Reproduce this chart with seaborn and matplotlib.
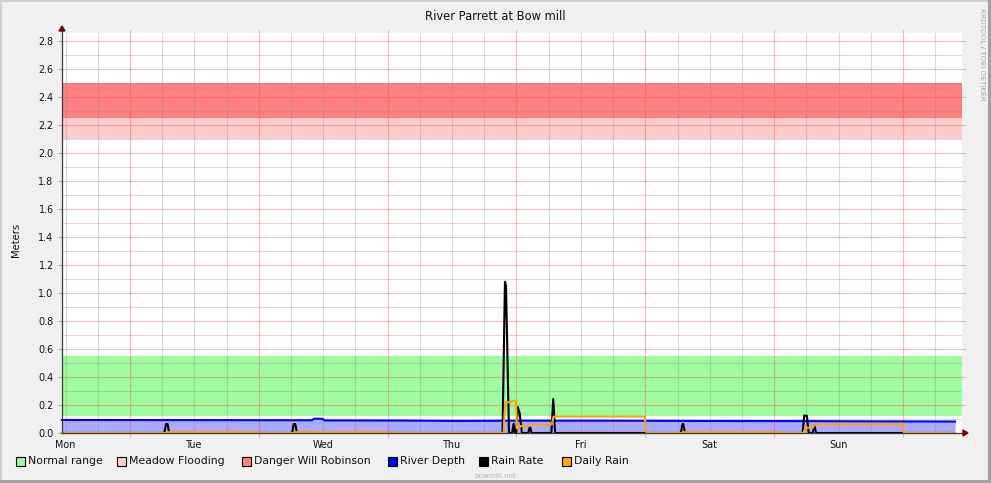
import matplotlib
matplotlib.use("Agg")
import matplotlib.pyplot as plt
from matplotlib.patches import Rectangle, Polygon
from matplotlib.lines import Line2D
import seaborn as sns

plt.rcParams["font.family"] = ["DejaVu Sans"]

# ---------------- data (time in hours since Monday 00:00) ----------------
day_labels = ["Mon", "Tue", "Wed", "Thu", "Fri", "Sat", "Sun"]
label_hours = [12, 36, 60, 84, 108, 132, 156]
y_ticks = [0.0, 0.2, 0.4, 0.6, 0.8, 1.0, 1.2, 1.4, 1.6, 1.8, 2.0, 2.2, 2.4, 2.6, 2.8]

normal_range = (0.12, 0.55)
meadow_flooding = (2.10, 2.25)
danger_level = (2.25, 2.50)

depth_hours = [11.3, 35.7, 55.7, 57.9, 58.3, 59.8, 60.3, 74.3, 85.5, 96.7,
               111.6, 130.2, 148.8, 163.7, 177.7]
depth_m = [0.093, 0.092, 0.091, 0.091, 0.102, 0.102, 0.090, 0.089, 0.086, 0.088,
           0.088, 0.086, 0.085, 0.083, 0.082]

rate_hours = [11.3, 30.4, 30.7, 31.0, 31.3,
              54.2, 54.5, 54.8, 55.1,
              93.4, 93.85, 94.05, 94.6,
              95.2, 95.45, 95.7,
              95.95, 96.25, 96.6, 97.0,
              98.2, 98.5, 98.8,
              102.5, 102.85, 103.2,
              126.6, 126.95, 127.05, 127.4,
              149.3, 149.6, 150.1, 150.45,
              151.2, 151.5, 151.8, 177.7]
rate_m = [0, 0, 0.064, 0.064, 0,
          0, 0.064, 0.064, 0,
          0, 1.08, 1.05, 0,
          0, 0.065, 0,
          0, 0.185, 0.14, 0,
          0, 0.05, 0,
          0, 0.243, 0,
          0, 0.064, 0.064, 0,
          0, 0.124, 0.124, 0,
          0, 0.057, 0, 0]

daily_hours = [11.3, 30.7, 30.9, 47.9, 48.1, 54.5, 54.7, 71.9, 72.1,
               93.6, 93.9, 95.0, 95.2, 95.9, 96.1, 96.5, 96.7, 98.5, 98.7,
               102.6, 102.9, 119.9, 120.2, 126.8, 127.0, 143.9, 144.1,
               149.5, 149.8, 151.2, 151.6, 167.9, 168.2, 177.7]
daily_m = [0, 0, 0.006, 0.006, 0, 0, 0.006, 0.006, 0,
           0, 0.22, 0.22, 0.23, 0.23, 0.033, 0.033, 0.05, 0.05, 0.062,
           0.062, 0.117, 0.117, 0, 0, 0.006, 0.006, 0,
           0, 0.038, 0.038, 0.062, 0.062, 0, 0]

legend_names = ["Normal range", "Meadow Flooding", "Danger Will Robinson",
                "River Depth", "Rain Rate", "Daily Rain"]

# ---------------- styling ----------------
C_NORMAL = "#a0fca0"
C_MEADOW = "#ffcccc"
C_DANGER = "#ff8080"
C_DEPTH_FILL = "#aaaaff"
C_DEPTH_LINE = "#0000ff"
C_RATE = "#000000"
C_DAILY = "#ffa500"
C_AXIS = "#3c3c3c"
C_ARROW = "#7f0000"
C_BG = "#f0f0f0"
legend_colors = [C_NORMAL, C_MEADOW, C_DANGER, C_DEPTH_LINE, C_RATE, C_DAILY]

W, H = 991, 483
fig = plt.figure(figsize=(W / 100, H / 100), dpi=100, facecolor=C_BG)


def fx(px):
    return px / W


def fy(py):
    return 1 - py / H


X0, X1 = 11.33, 179.0
Y0, Y1 = 0.0, 2.857
ax = fig.add_axes([fx(62), fy(433), fx(962) - fx(62), fy(33) - fy(433)])
ax.set_facecolor("white")
ax.set_xlim(X0, X1)
ax.set_ylim(Y0, Y1)
for s in ax.spines.values():
    s.set_visible(False)

# threshold bands
for (lo, hi), col in [(normal_range, C_NORMAL), (meadow_flooding, C_MEADOW),
                      (danger_level, C_DANGER)]:
    ax.fill_between([X0, X1], lo, hi, color=col, linewidth=0, zorder=1)

# river depth area
ax.fill_between(depth_hours, 0, depth_m, color=C_DEPTH_FILL, linewidth=0, zorder=1.5)

# grid: minor every 6 h / 0.1 m, major at midnight / 0.2 m
grid_minor = (0.5, 0.5, 0.5, 0.28)
grid_major = (1.0, 0.3, 0.3, 0.4)
h = 6 * (int(X0 // 6) + 1)
while h < X1:
    if h % 24:
        ax.axvline(h, color=grid_minor, lw=0.8, zorder=2)
    else:
        ax.axvline(h, ymin=-0.01, ymax=1.008, color=grid_major, lw=0.8,
                   zorder=2, clip_on=False)
    h += 6
for k in range(1, 29):
    v = k / 10
    if k % 2:
        ax.axhline(v, color=grid_minor, lw=0.8, zorder=2)
    else:
        ax.axhline(v, xmin=0, xmax=1.003, color=grid_major, lw=0.8,
                   zorder=2, clip_on=False)

# data lines
sns.lineplot(x=depth_hours, y=depth_m, ax=ax, color=C_DEPTH_LINE, lw=1.5,
             estimator=None, sort=False, zorder=3, clip_on=False)
sns.lineplot(x=rate_hours, y=rate_m, ax=ax, color=C_RATE, lw=1.5,
             estimator=None, sort=False, zorder=3.2, clip_on=False)
sns.lineplot(x=daily_hours, y=daily_m, ax=ax, color=C_DAILY, lw=1.5,
             estimator=None, sort=False, zorder=3.4, clip_on=False)

# ticks
ax.set_xticks(label_hours)
ax.set_xticklabels(day_labels, fontsize=6.9, color="#111111")
ax.tick_params(axis="x", length=0, pad=5)
ax.set_yticks(y_ticks)
ax.set_yticklabels([f"{v:.1f}" for v in y_ticks], fontsize=6.9, color="#111111")
ax.tick_params(axis="y", length=3, width=0.8, color=(0.5, 0.5, 0.5, 0.6), pad=3)
ax.set_xlabel("")
ax.set_ylabel("")

# axes with arrows
fig.add_artist(Line2D([fx(62), fx(62)], [fy(433), fy(30)], color=C_AXIS, lw=0.9, zorder=10))
fig.add_artist(Line2D([fx(62), fx(965)], [fy(433), fy(433)], color=C_AXIS, lw=0.9, zorder=10))
fig.add_artist(Polygon([[fx(59), fy(31)], [fx(65), fy(31)], [fx(62), fy(26)]],
                       closed=True, color=C_ARROW, zorder=11))
fig.add_artist(Polygon([[fx(963), fy(430)], [fx(963), fy(436)], [fx(968), fy(433)]],
                       closed=True, color=C_ARROW, zorder=11))

# texts
fig.text(fx(495), fy(16), "River Parrett at Bow mill", ha="center", va="center",
         fontsize=8.3, color="#111111")
fig.text(fx(16), fy(240), "Meters", rotation=90, ha="center", va="center",
         fontsize=7.2, color="#111111")
fig.text(fx(982), fy(54), "RRDTOOL / TOBI OETIKER", rotation=270, ha="center",
         va="center", fontsize=5.2, color="#a8a8a8")
fig.text(fx(495), fy(476), "bowmill.net", ha="center", va="center",
         fontsize=5.2, color="#b4b4b4")

# legend row
swatch_x = [16, 117, 242, 388, 479, 562]
for name, col, sx in zip(legend_names, legend_colors, swatch_x):
    fig.add_artist(Rectangle((fx(sx), fy(466)), fx(9), 9 / H, facecolor=col,
                             edgecolor="black", lw=0.8))
    fig.text(fx(sx + 12), fy(461.5), name, ha="left", va="center",
             fontsize=7.8, color="#111111")

# frame
fig.add_artist(Rectangle((0, fy(2)), 1, 2 / H, facecolor="#cfcfcf", lw=0))
fig.add_artist(Rectangle((0, 0), 2 / W, 1, facecolor="#cfcfcf", lw=0))
fig.add_artist(Rectangle((0, 0), 1, 3 / H, facecolor="#a0a0a0", lw=0))
fig.add_artist(Rectangle((1 - 3 / W, 0), 3 / W, 1, facecolor="#a0a0a0", lw=0))

fig.savefig("out.png", dpi=100, facecolor=C_BG)
